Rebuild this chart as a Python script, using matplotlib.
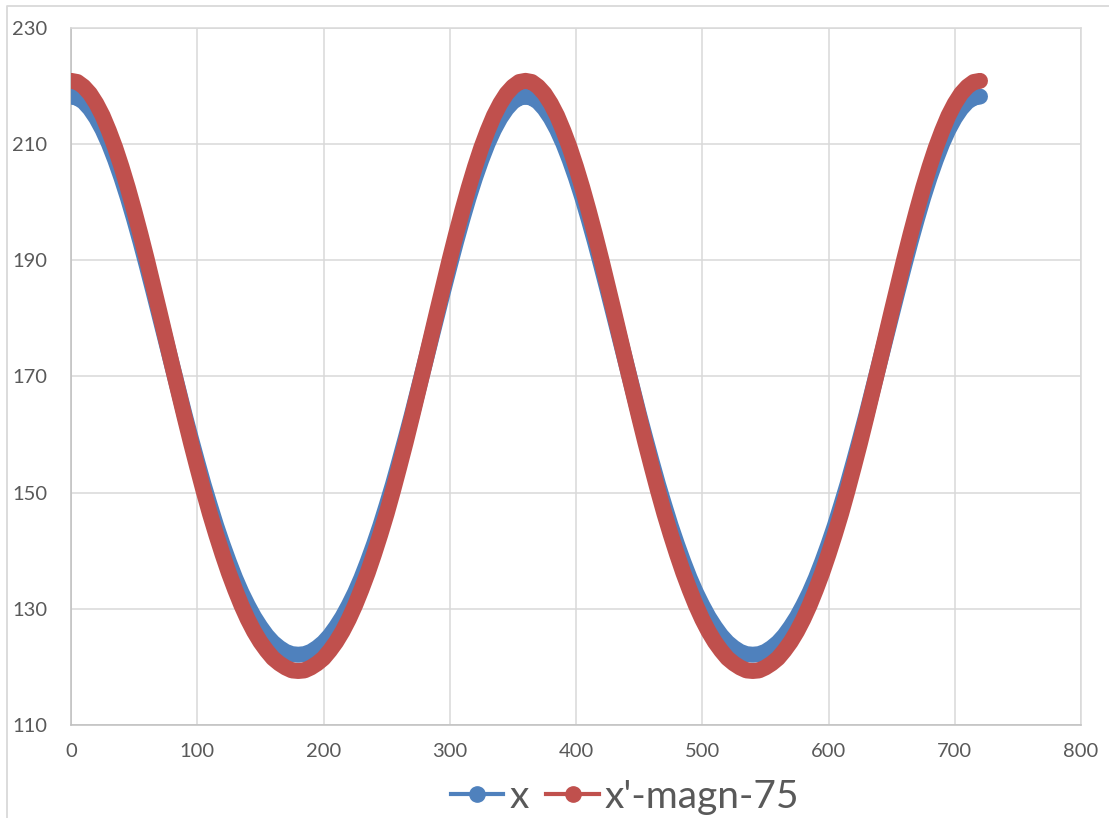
import matplotlib
matplotlib.use("Agg")
import matplotlib.pyplot as plt
from matplotlib.lines import Line2D

# Angle (degrees) at which both series are sampled
angle = list(range(0, 721, 5))

# Series "x"
x_vals = [
    # 0 .. 180
    218.2, 218.0, 217.3, 216.1, 214.5, 212.5, 210.1, 207.3, 204.2, 200.8,
    197.1, 193.2, 189.1, 184.9, 180.6, 176.3, 172.0, 167.7, 163.4, 159.3,
    155.3, 151.4, 147.8, 144.3, 141.1, 138.1, 135.3, 132.8, 130.6, 128.6,
    126.9, 125.4, 124.2, 123.3, 122.6, 122.2, 122.1,
    # 185 .. 360
    122.2, 122.6, 123.3, 124.2, 125.4, 126.9, 128.6, 130.6, 132.8, 135.3,
    138.1, 141.1, 144.3, 147.8, 151.4, 155.3, 159.3, 163.4, 167.7, 172.0,
    176.3, 180.6, 184.9, 189.1, 193.2, 197.1, 200.8, 204.2, 207.3, 210.1,
    212.5, 214.5, 216.1, 217.3, 218.0, 218.2,
    # 365 .. 540
    218.0, 217.3, 216.1, 214.5, 212.5, 210.1, 207.3, 204.2, 200.8,
    197.1, 193.2, 189.1, 184.9, 180.6, 176.3, 172.0, 167.7, 163.4, 159.3,
    155.3, 151.4, 147.8, 144.3, 141.1, 138.1, 135.3, 132.8, 130.6, 128.6,
    126.9, 125.4, 124.2, 123.3, 122.6, 122.2, 122.1,
    # 545 .. 720
    122.2, 122.6, 123.3, 124.2, 125.4, 126.9, 128.6, 130.6, 132.8, 135.3,
    138.1, 141.1, 144.3, 147.8, 151.4, 155.3, 159.3, 163.4, 167.7, 172.0,
    176.3, 180.6, 184.9, 189.1, 193.2, 197.1, 200.8, 204.2, 207.3, 210.1,
    212.5, 214.5, 216.1, 217.3, 218.0, 218.2,
]

# Series "x'-magn-75"
x_magn_vals = [
    # 0 .. 180
    220.9, 220.7, 219.9, 218.7, 217.0, 214.9, 212.3, 209.4, 206.1, 202.5,
    198.6, 194.5, 190.2, 185.7, 181.2, 176.6, 172.0, 167.5, 163.0, 158.6,
    154.4, 150.3, 146.4, 142.8, 139.4, 136.2, 133.3, 130.6, 128.2, 126.1,
    124.3, 122.8, 121.5, 120.6, 119.9, 119.4, 119.3,
    # 185 .. 360
    119.4, 119.9, 120.6, 121.5, 122.8, 124.3, 126.1, 128.2, 130.6, 133.3,
    136.2, 139.4, 142.8, 146.4, 150.3, 154.4, 158.6, 163.0, 167.5, 172.0,
    176.6, 181.2, 185.7, 190.2, 194.5, 198.6, 202.5, 206.1, 209.4, 212.3,
    214.9, 217.0, 218.7, 219.9, 220.7, 220.9,
    # 365 .. 540
    220.7, 219.9, 218.7, 217.0, 214.9, 212.3, 209.4, 206.1, 202.5,
    198.6, 194.5, 190.2, 185.7, 181.2, 176.6, 172.0, 167.5, 163.0, 158.6,
    154.4, 150.3, 146.4, 142.8, 139.4, 136.2, 133.3, 130.6, 128.2, 126.1,
    124.3, 122.8, 121.5, 120.6, 119.9, 119.4, 119.3,
    # 545 .. 720
    119.4, 119.9, 120.6, 121.5, 122.8, 124.3, 126.1, 128.2, 130.6, 133.3,
    136.2, 139.4, 142.8, 146.4, 150.3, 154.4, 158.6, 163.0, 167.5, 172.0,
    176.6, 181.2, 185.7, 190.2, 194.5, 198.6, 202.5, 206.1, 209.4, 212.3,
    214.9, 217.0, 218.7, 219.9, 220.7, 220.9,
]

series_names = ["x", "x'-magn-75"]
x_ticks = [0, 100, 200, 300, 400, 500, 600, 700, 800]
y_ticks = [110, 130, 150, 170, 190, 210, 230]

BLUE = "#4f81bd"
RED = "#c0504d"
GRID = "#d9d9d9"
AXIS = "#bfbfbf"
TEXT = "#595959"

plt.rcParams["font.family"] = ["Lato", "DejaVu Sans"]

W, H = 1109, 818
fig = plt.figure(figsize=(W / 100, H / 100), dpi=100)
ax = fig.add_axes([71 / W, 1 - 725 / H, (1081 - 71) / W, (725 - 28) / H])

band_w = 11.5  # width of the dense marker band, in points
for vals, col in ((x_vals, BLUE), (x_magn_vals, RED)):
    ax.plot(angle, vals, color=col, lw=band_w, solid_capstyle="round",
            solid_joinstyle="round", zorder=3)

ax.set_xlim(0, 800)
ax.set_ylim(110, 230)
ax.set_xticks(x_ticks)
ax.set_yticks(y_ticks)
ax.grid(True, color=GRID, lw=1.1, zorder=0)
ax.set_axisbelow(True)
ax.tick_params(length=0, labelsize=14.5, labelcolor=TEXT)
ax.tick_params(axis="y", pad=17)
ax.tick_params(axis="x", pad=13)
for side in ("top", "right"):
    ax.spines[side].set_color(GRID)
    ax.spines[side].set_linewidth(1.1)
for side in ("left", "bottom"):
    ax.spines[side].set_color(AXIS)
    ax.spines[side].set_linewidth(1.1)

handles = [
    Line2D([], [], color=c, lw=3, marker="o", markersize=11, markeredgecolor=c)
    for c in (BLUE, RED)
]
fig.legend(handles, series_names, loc="center", bbox_to_anchor=(625 / W, 1 - 797 / H),
           ncol=2, frameon=False, fontsize=28, labelcolor=TEXT, handlelength=1.36,
           handletextpad=0.15, columnspacing=0.45, borderaxespad=0)

# Chart-area border along the left and top edges
fig.add_artist(Line2D([7 / W, 7 / W, 1], [0, 1 - 6 / H, 1 - 6 / H],
                      transform=fig.transFigure, color=GRID, lw=1.3))

fig.savefig("out.png", dpi=100)
